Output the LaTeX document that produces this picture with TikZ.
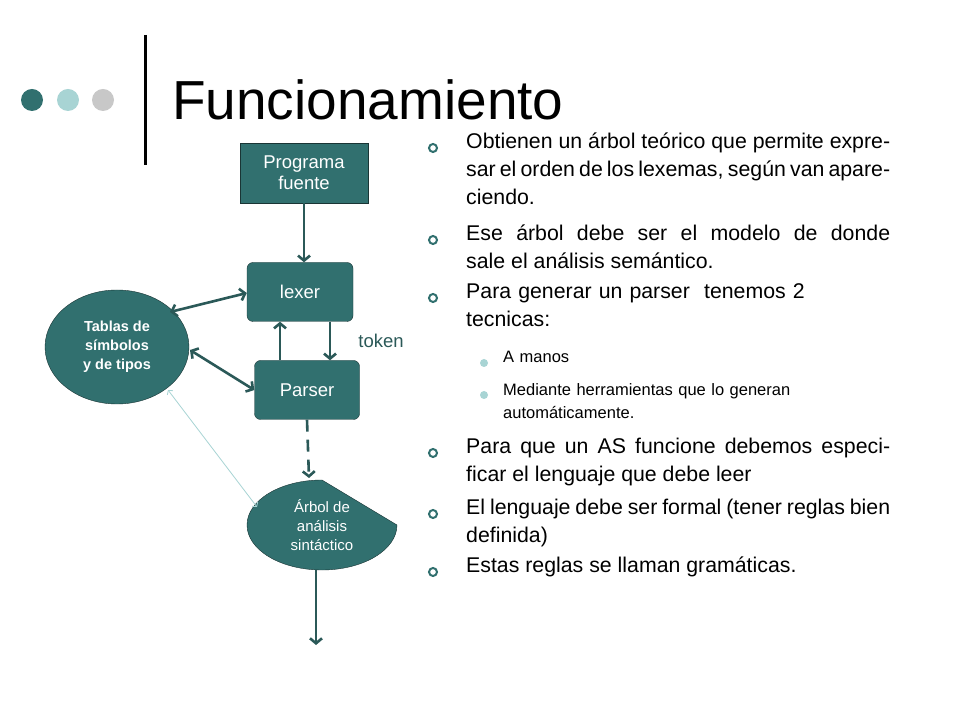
\documentclass[tikz,border=0pt]{standalone}
\usepackage{fontspec}
\setmainfont{Liberation Sans}
\usetikzlibrary{arrows.meta,shapes.geometric}
\definecolor{teal1}{HTML}{31706F}
\definecolor{tealdk}{HTML}{2B5958}
\definecolor{tealli}{HTML}{A8D4D4}
\definecolor{grayli}{HTML}{C8C8C8}
\begin{document}
\begin{tikzpicture}[x=1pt,y=1pt,
  box/.style={draw=tealdk!60!black,fill=teal1,text=white,font=\fontsize{18.5}{21}\selectfont,align=center,inner sep=0pt},
  conn/.style={draw=tealdk,line width=2.6pt,-{Straight Barb[length=5pt,width=12pt]}},
  conn2/.style={draw=tealdk,line width=2.6pt,{Straight Barb[length=5pt,width=12pt]}-{Straight Barb[length=5pt,width=12pt]}},
  bul/.style={circle,draw=teal1,line width=2pt,inner sep=0pt,minimum size=8pt},
  sbul/.style={circle,fill=tealli,inner sep=0pt,minimum size=8pt},
  btxt/.style={anchor=north west,inner sep=0pt,text width=424pt,align=justify,font=\fontsize{21.3}{28}\selectfont},
  stxt/.style={anchor=north west,inner sep=0pt,text width=390pt,align=left,font=\fontsize{16.5}{23}\selectfont}]
\useasboundingbox (0,0) rectangle (960,720);
\fill[white] (0,0) rectangle (960,720);
% header
\fill[teal1] (32,620) circle (11);
\fill[tealli] (68,620) circle (11);
\fill[grayli] (103,620) circle (11);
\draw[line width=3pt,black] (145,685) -- (145,555);
\node[anchor=base west,inner sep=0pt,font=\fontsize{55}{60}\selectfont] (title) at (172,600) {Funcionamiento};
% diagram
\node[box,minimum width=128pt,minimum height=60pt] (prog) at (304,547) {Programa\\fuente};
\node[box,rounded corners=6pt,minimum width=106pt,minimum height=59pt] (lex) at (300,428) {lexer};
\node[box,rounded corners=6pt,minimum width=105pt,minimum height=59pt] (par) at (307,330) {Parser};
\node[ellipse,draw=tealdk!60!black,fill=teal1,minimum width=144pt,minimum height=114pt,inner sep=0pt] (tab) at (117,373) {};
\node[text=white,align=center,font=\bfseries\fontsize{14.5}{19}\selectfont] (tabt) at (117,373) {Tablas de\\símbolos\\y de tipos};
\path[draw=tealdk!60!black,fill=teal1] (322,240) -- (397,195) arc[start angle=0,end angle=-270,x radius=75,y radius=45] -- cycle;
\node[text=white,align=center,font=\fontsize{15}{19}\selectfont] (arb) at (322,195) {Árbol de\\análisis\\sintáctico};
\coordinate (arbtop) at (309,242);
\coordinate (arbbot) at (316,150);
\coordinate (arbleft) at (257,213);
\coordinate (endp) at (316,75);
\node[text=tealdk,font=\fontsize{18.5}{21}\selectfont,inner sep=0pt] (tok) at (381,379) {token};
\draw[conn] (prog.south) -- (lex.north -| prog.south);
\draw[conn2] (170,408) -- (lex.west |- 0,427);
\draw[conn2] (190,370) -- (par.west |- 0,330);
\draw[conn] (par.north -| 280,0) -- (lex.south -| 280,0);
\draw[conn] (lex.south -| 330,0) -- (par.north -| 330,0);
\draw[conn,dash pattern=on 12pt off 8pt] (par.south) -- (arbtop);
\draw[draw=tealli,line width=0.8pt,{Straight Barb[length=3pt,width=7pt]}-{Straight Barb[length=3pt,width=7pt]}] (168,330) -- (arbleft);
\draw[conn] (arbbot) -- (endp);
% bullets
\foreach \y in {572,480,422,267,206,148} \node[bul] at (433,\y) {};
\foreach \y in {357,325} \node[sbul] at (484,\y) {};
\node[btxt] (b1) at (466,587) {Obtienen un árbol teórico que permite expresar el orden de los lexemas, según van apareciendo.};
\node[btxt] (b2) at (466,495) {Ese árbol debe ser el modelo de donde\linebreak sale el análisis semántico.};
\node[btxt,align=left] (b3) at (466,437) {Para generar un parser\ \ tenemos 2\\tecnicas:};
\node[stxt] (s1) at (503,369) {A manos};
\node[stxt] (s2) at (503,337) {Mediante herramientas que lo generan\\automáticamente.};
\node[btxt] (b4) at (466,282) {Para que un AS funcione debemos especificar el lenguaje que debe leer};
\node[btxt] (b5) at (466,221) {El lenguaje debe ser formal (tener reglas bien definida)};
\node[btxt] (b6) at (466,163) {Estas reglas se llaman gramáticas.};
\end{tikzpicture}
\end{document}
